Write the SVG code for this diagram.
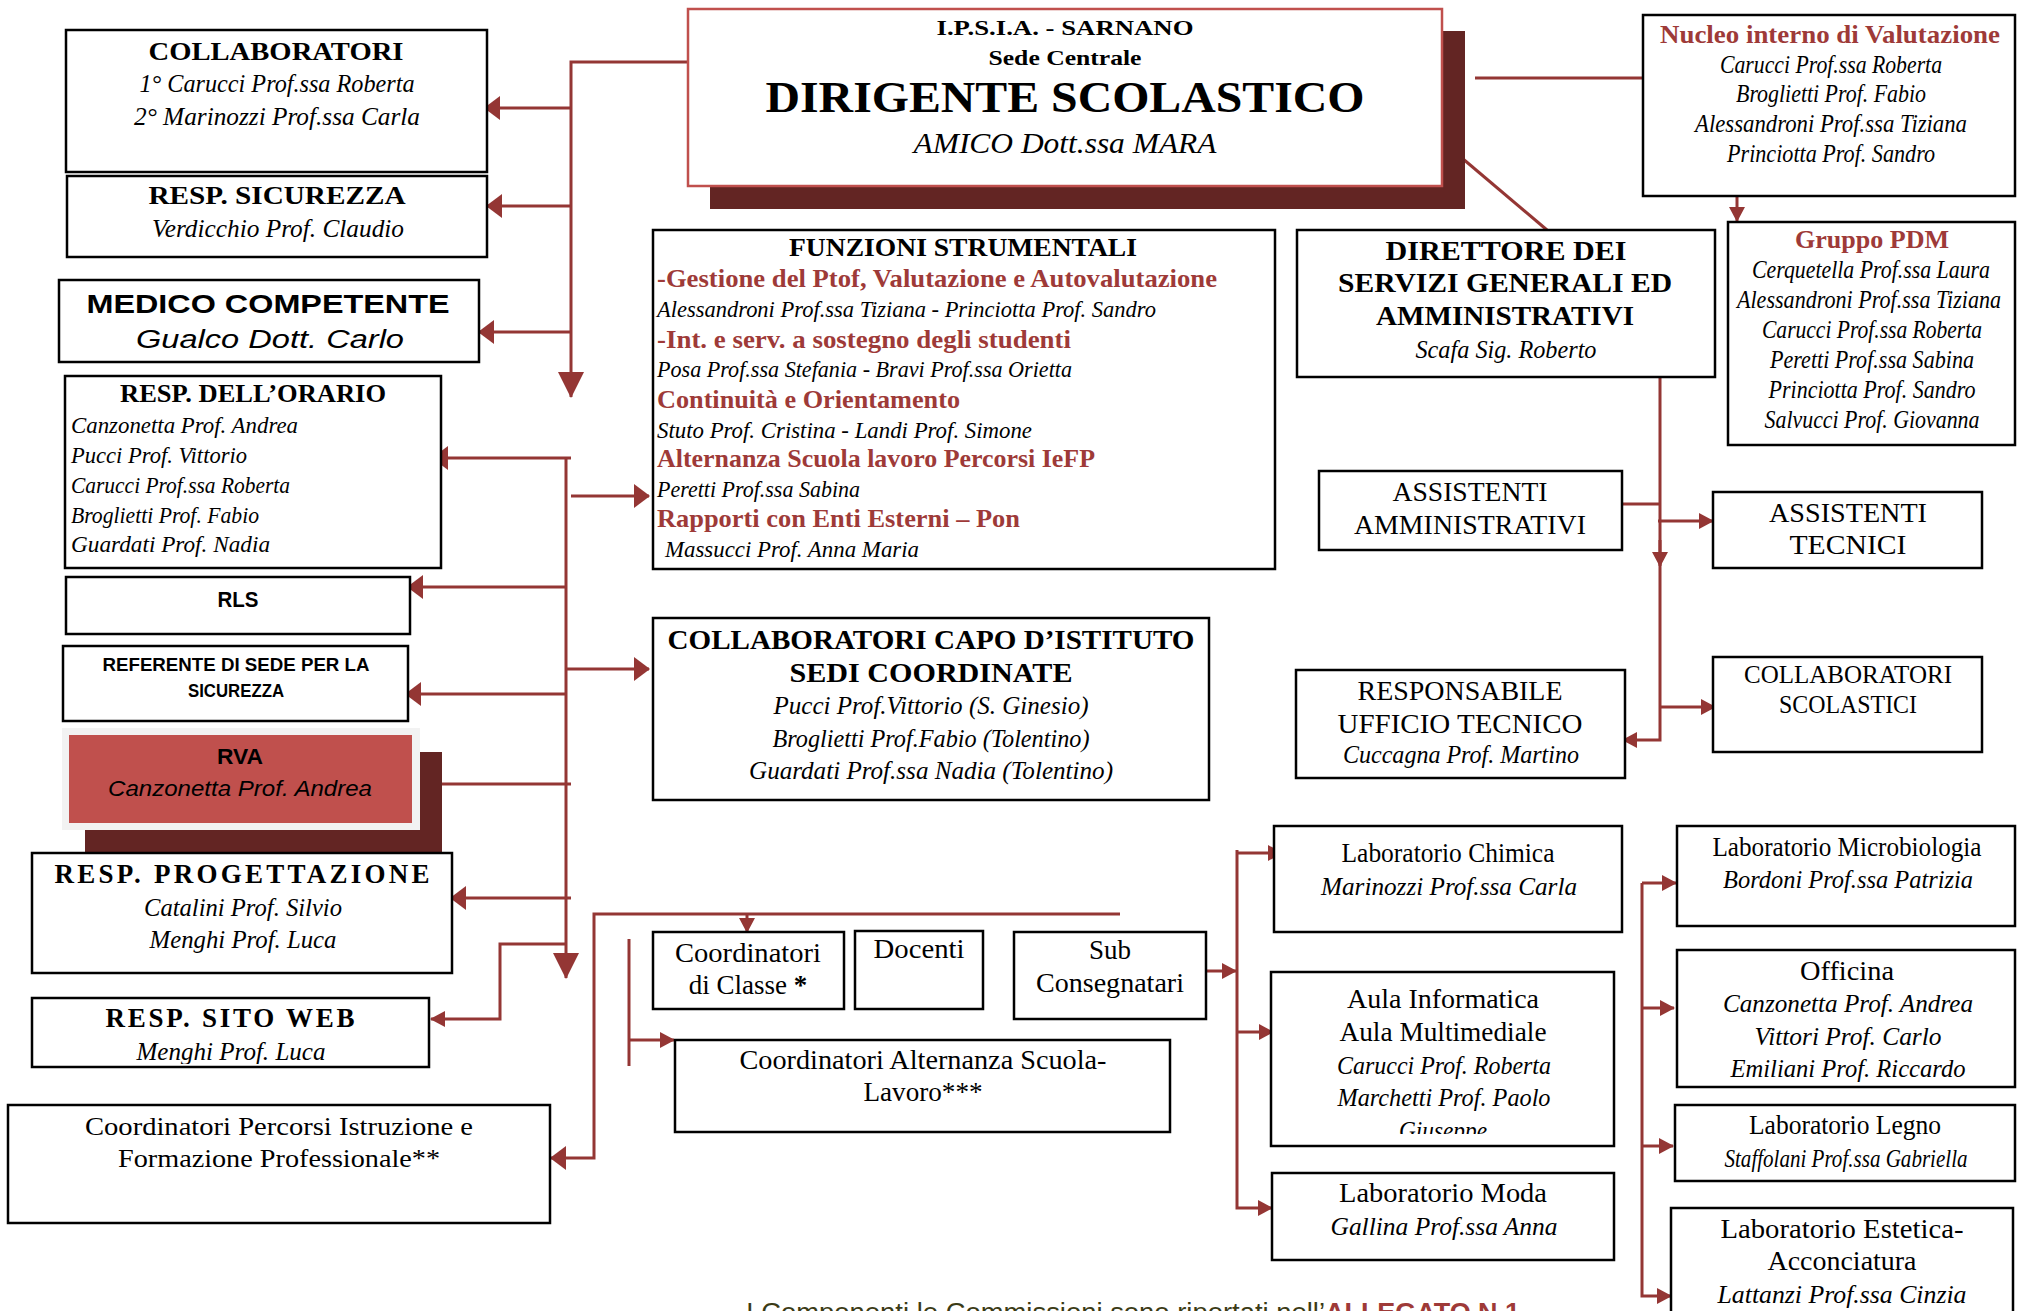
<svg xmlns="http://www.w3.org/2000/svg" width="2017" height="1311" viewBox="0 0 2017 1311" font-size="24">
<style>
.box{fill:#fff;stroke:#000;stroke-width:2.5}
text{font-family:"Liberation Serif","Times New Roman",serif;fill:#000}
.m{text-anchor:middle}
.b{font-weight:bold}
.i{font-style:italic}
.r{fill:#9e3a38}
.s{font-family:"Liberation Sans",Arial,sans-serif}
.n{fill:#3b3b16}
.c{fill:none;stroke:#943634;stroke-width:3}
</style>
<defs>
<marker id="big" markerUnits="userSpaceOnUse" markerWidth="16" markerHeight="24" viewBox="0 0 16 24" refX="15" refY="12" orient="auto"><path d="M0,0 L16,12 L0,24 z" fill="#943634"/></marker>
<marker id="sm" markerUnits="userSpaceOnUse" markerWidth="15" markerHeight="16" viewBox="0 0 15 16" refX="14" refY="8" orient="auto"><path d="M0,0 L15,8 L0,16 z" fill="#943634"/></marker>
<marker id="huge" markerUnits="userSpaceOnUse" markerWidth="26" markerHeight="26" viewBox="0 0 26 26" refX="25" refY="13" orient="auto"><path d="M0,0 L26,13 L0,26 z" fill="#943634"/></marker>
<clipPath id="clipWeb"><rect x="32" y="998" width="397" height="66"/></clipPath>
<clipPath id="clipAula"><rect x="1271" y="972" width="343" height="162"/></clipPath>
</defs>

<g id="connectors">
<path class="c" d="M688,62 H571 V397" marker-end="url(#huge)"/>
<path class="c" d="M571,108 H485" marker-end="url(#big)"/>
<path class="c" d="M571,206 H487" marker-end="url(#big)"/>
<path class="c" d="M571,332 H479" marker-end="url(#big)"/>
<path class="c" d="M566,458 V978" marker-end="url(#huge)"/>
<path class="c" d="M571,458 H433" marker-end="url(#big)"/>
<path class="c" d="M571,496 H649" marker-end="url(#big)"/>
<path class="c" d="M566,587 H408" marker-end="url(#big)"/>
<path class="c" d="M566,669 H649" marker-end="url(#big)"/>
<path class="c" d="M566,694 H406" marker-end="url(#big)"/>
<path class="c" d="M571,784 H405" marker-end="url(#big)"/>
<path class="c" d="M571,898 H451" marker-end="url(#big)"/>
<path class="c" d="M566,944 H500 V1019 H431" marker-end="url(#sm)"/>
<path class="c" d="M1120,914 H594 V1158 H551" marker-end="url(#big)"/>
<path class="c" d="M747,914 V932" marker-end="url(#sm)"/>
<path class="c" d="M629,939 V1066"/>
<path class="c" d="M629,1040 H674" marker-end="url(#sm)"/>
<path class="c" d="M1206,971 H1236" marker-end="url(#sm)"/>
<path class="c" d="M1237,850 V1208 H1272" marker-end="url(#sm)"/>
<path class="c" d="M1237,853 H1282" marker-end="url(#sm)"/>
<path class="c" d="M1237,1032 H1273" marker-end="url(#sm)"/>
<path class="c" d="M1642,883 V1296 H1671" marker-end="url(#sm)"/>
<path class="c" d="M1642,883 H1676" marker-end="url(#sm)"/>
<path class="c" d="M1642,1008 H1674" marker-end="url(#sm)"/>
<path class="c" d="M1642,1146 H1673" marker-end="url(#sm)"/>
<path class="c" d="M1456,153 L1547,230"/>
<path class="c" d="M1660,377 V740 H1623" marker-end="url(#sm)"/>
<path class="c" d="M1660,504 H1601" marker-end="url(#sm)"/>
<path class="c" d="M1658,521 H1713" marker-end="url(#sm)"/>
<path class="c" d="M1660,540 V566" marker-end="url(#sm)"/>
<path class="c" d="M1660,707 H1715" marker-end="url(#sm)"/>
<path class="c" d="M1475,78 H1643"/>
<path class="c" d="M1737,196 V221" marker-end="url(#sm)"/>
</g>

<g id="dirigente">
<rect x="710" y="31" width="755" height="178" fill="#632523"/>
<rect x="688" y="9" width="754" height="177" fill="#fff" stroke="#c0504d" stroke-width="2.5"/>
<text class="m b" x="1065" y="35" font-size="22" textLength="257" lengthAdjust="spacingAndGlyphs">I.P.S.I.A. - SARNANO</text>
<text class="m b" x="1065" y="65" font-size="22" textLength="153" lengthAdjust="spacingAndGlyphs">Sede Centrale</text>
<text class="m b" x="1065" y="112" font-size="45" textLength="599" lengthAdjust="spacingAndGlyphs">DIRIGENTE SCOLASTICO</text>
<text class="m i" x="1065" y="153" font-size="30" textLength="303" lengthAdjust="spacingAndGlyphs">AMICO Dott.ssa MARA</text>
</g>

<g id="collaboratori">
<rect class="box" x="66" y="30" width="421" height="142"/>
<text class="m b" x="276" y="60" font-size="26" textLength="255" lengthAdjust="spacingAndGlyphs">COLLABORATORI</text>
<text class="m i" x="277" y="92" font-size="26" textLength="275" lengthAdjust="spacingAndGlyphs">1° Carucci Prof.ssa Roberta</text>
<text class="m i" x="277" y="125" font-size="26" textLength="286" lengthAdjust="spacingAndGlyphs">2° Marinozzi Prof.ssa Carla</text>
</g>

<g id="resp-sicurezza">
<rect class="box" x="67" y="176" width="420" height="81"/>
<text class="m b" x="277" y="204" font-size="26" textLength="257" lengthAdjust="spacingAndGlyphs">RESP. SICUREZZA</text>
<text class="m i" x="278" y="237" font-size="26" textLength="252" lengthAdjust="spacingAndGlyphs">Verdicchio  Prof. Claudio</text>
</g>

<g id="medico">
<rect class="box" x="59" y="280" width="420" height="82"/>
<text class="m b s" x="268" y="313" font-size="26" textLength="363" lengthAdjust="spacingAndGlyphs">MEDICO COMPETENTE</text>
<text class="m i s" x="270" y="348" font-size="26" textLength="268" lengthAdjust="spacingAndGlyphs">Gualco Dott. Carlo</text>
</g>

<g id="orario">
<rect class="box" x="65" y="376" width="376" height="192"/>
<text class="m b" x="253" y="402" font-size="25" textLength="266" lengthAdjust="spacingAndGlyphs">RESP. DELL’ORARIO</text>
<text class="i" x="71" y="433" font-size="24" textLength="227" lengthAdjust="spacingAndGlyphs">Canzonetta Prof. Andrea</text>
<text class="i" x="71" y="463" font-size="24" textLength="176" lengthAdjust="spacingAndGlyphs">Pucci Prof. Vittorio</text>
<text class="i" x="71" y="493" font-size="24" textLength="219" lengthAdjust="spacingAndGlyphs">Carucci Prof.ssa Roberta</text>
<text class="i" x="71" y="523" font-size="24" textLength="188" lengthAdjust="spacingAndGlyphs">Broglietti Prof. Fabio</text>
<text class="i" x="71" y="552" font-size="24" textLength="199" lengthAdjust="spacingAndGlyphs">Guardati Prof. Nadia</text>
</g>

<g id="rls">
<rect class="box" x="66" y="577" width="344" height="57"/>
<text class="m b s" x="238" y="607" font-size="22" textLength="41" lengthAdjust="spacingAndGlyphs">RLS</text>
</g>

<g id="referente">
<rect class="box" x="63" y="646" width="345" height="75"/>
<text class="m b s" x="236" y="671" font-size="18" textLength="267" lengthAdjust="spacingAndGlyphs">REFERENTE DI SEDE PER LA</text>
<text class="m b s" x="236" y="697" font-size="18" textLength="96" lengthAdjust="spacingAndGlyphs">SICUREZZA</text>
</g>

<g id="rva">
<rect x="85" y="752" width="357" height="100" fill="#632523"/>
<rect x="62" y="728" width="358" height="102" fill="#f2f2f2"/>
<rect x="69" y="735" width="343" height="88" fill="#c0504d"/>
<text class="m b s" x="240" y="764" font-size="22" textLength="46" lengthAdjust="spacingAndGlyphs">RVA</text>
<text class="m i s" x="240" y="796" font-size="22" textLength="264" lengthAdjust="spacingAndGlyphs">Canzonetta Prof. Andrea</text>
</g>

<g id="progettazione">
<rect class="box" x="32" y="853" width="420" height="120"/>
<text class="m b" x="242" y="883" font-size="27" textLength="375" lengthAdjust="spacing">RESP. PROGETTAZIONE</text>
<text class="m i" x="243" y="916" font-size="26" textLength="198" lengthAdjust="spacingAndGlyphs">Catalini Prof. Silvio</text>
<text class="m i" x="243" y="948" font-size="26" textLength="187" lengthAdjust="spacingAndGlyphs">Menghi Prof. Luca</text>
</g>

<g id="sito-web">
<rect class="box" x="32" y="998" width="397" height="69"/>
<text class="m b" x="230" y="1027" font-size="27" textLength="249" lengthAdjust="spacing">RESP. SITO WEB</text>
<text class="m i" x="231" y="1060" font-size="26" textLength="189" lengthAdjust="spacingAndGlyphs" clip-path="url(#clipWeb)">Menghi Prof. Luca</text>
</g>

<g id="percorsi">
<rect class="box" x="8" y="1105" width="542" height="118"/>
<text class="m" x="279" y="1135" font-size="26" textLength="388" lengthAdjust="spacingAndGlyphs">Coordinatori Percorsi Istruzione e</text>
<text class="m" x="279" y="1167" font-size="26" textLength="322" lengthAdjust="spacingAndGlyphs">Formazione Professionale**</text>
</g>

<g id="funzioni">
<rect class="box" x="653" y="230" width="622" height="339"/>
<text class="m b" x="963" y="256" font-size="25" textLength="348" lengthAdjust="spacingAndGlyphs">FUNZIONI STRUMENTALI</text>
<text class="b r" x="657" y="287" font-size="25" textLength="560" lengthAdjust="spacingAndGlyphs">-Gestione del Ptof, Valutazione e Autovalutazione</text>
<text class="i" x="657" y="317" font-size="24" textLength="499" lengthAdjust="spacingAndGlyphs">Alessandroni Prof.ssa Tiziana - Princiotta Prof. Sandro</text>
<text class="b r" x="657" y="348" font-size="25" textLength="414" lengthAdjust="spacingAndGlyphs">-Int. e serv. a sostegno degli studenti</text>
<text class="i" x="657" y="377" font-size="24" textLength="415" lengthAdjust="spacingAndGlyphs">Posa Prof.ssa Stefania - Bravi Prof.ssa Orietta</text>
<text class="b r" x="657" y="408" font-size="25" textLength="303" lengthAdjust="spacingAndGlyphs">Continuità e Orientamento</text>
<text class="i" x="657" y="438" font-size="24" textLength="375" lengthAdjust="spacingAndGlyphs">Stuto Prof. Cristina - Landi Prof. Simone</text>
<text class="b r" x="657" y="467" font-size="25" textLength="438" lengthAdjust="spacingAndGlyphs">Alternanza Scuola lavoro Percorsi IeFP</text>
<text class="i" x="657" y="497" font-size="24" textLength="203" lengthAdjust="spacingAndGlyphs">Peretti Prof.ssa Sabina</text>
<text class="b r" x="657" y="527" font-size="25" textLength="363" lengthAdjust="spacingAndGlyphs">Rapporti con Enti Esterni – Pon</text>
<text class="i" x="665" y="557" font-size="24" textLength="254" lengthAdjust="spacingAndGlyphs">Massucci Prof. Anna Maria</text>
</g>

<g id="collab-capo">
<rect class="box" x="653" y="618" width="556" height="182"/>
<text class="m b" x="931" y="649" font-size="27" textLength="527" lengthAdjust="spacingAndGlyphs">COLLABORATORI CAPO D’ISTITUTO</text>
<text class="m b" x="931" y="682" font-size="27" textLength="283" lengthAdjust="spacingAndGlyphs">SEDI COORDINATE</text>
<text class="m i" x="931" y="714" font-size="26" textLength="315" lengthAdjust="spacingAndGlyphs">Pucci Prof.Vittorio (S. Ginesio)</text>
<text class="m i" x="931" y="747" font-size="26" textLength="317" lengthAdjust="spacingAndGlyphs">Broglietti Prof.Fabio (Tolentino)</text>
<text class="m i" x="931" y="779" font-size="26" textLength="364" lengthAdjust="spacingAndGlyphs">Guardati Prof.ssa Nadia (Tolentino)</text>
</g>

<g id="coord-classe">
<rect class="box" x="653" y="932" width="191" height="77"/>
<text class="m" x="748" y="962" font-size="27" textLength="146" lengthAdjust="spacingAndGlyphs">Coordinatori</text>
<text class="m" x="748" y="994" font-size="27">di Classe <tspan font-weight="bold">*</tspan></text>
</g>

<g id="docenti">
<rect class="box" x="855" y="931" width="128" height="78"/>
<text class="m" x="919" y="958" font-size="27" textLength="91" lengthAdjust="spacingAndGlyphs">Docenti</text>
</g>

<g id="sub-consegnatari">
<rect class="box" x="1014" y="932" width="192" height="87"/>
<text class="m" x="1110" y="959" font-size="27">Sub</text>
<text class="m" x="1110" y="992" font-size="27" textLength="148" lengthAdjust="spacingAndGlyphs">Consegnatari</text>
</g>

<g id="coord-alternanza">
<rect class="box" x="675" y="1040" width="495" height="92"/>
<text class="m" x="923" y="1069" font-size="27" textLength="367" lengthAdjust="spacingAndGlyphs">Coordinatori Alternanza Scuola-</text>
<text class="m" x="923" y="1101" font-size="27" textLength="119" lengthAdjust="spacingAndGlyphs">Lavoro***</text>
</g>

<g id="direttore">
<rect class="box" x="1297" y="230" width="418" height="147"/>
<text class="m b" x="1506" y="260" font-size="27" textLength="241" lengthAdjust="spacingAndGlyphs">DIRETTORE DEI</text>
<text class="m b" x="1505" y="292" font-size="27" textLength="334" lengthAdjust="spacingAndGlyphs">SERVIZI GENERALI ED</text>
<text class="m b" x="1505" y="325" font-size="27" textLength="258" lengthAdjust="spacingAndGlyphs">AMMINISTRATIVI</text>
<text class="m i" x="1506" y="358" font-size="26" textLength="181" lengthAdjust="spacingAndGlyphs">Scafa Sig. Roberto</text>
</g>

<g id="nucleo">
<rect class="box" x="1643" y="15" width="372" height="181"/>
<text class="m b r" x="1830" y="43" font-size="25" textLength="340" lengthAdjust="spacingAndGlyphs">Nucleo interno di Valutazione</text>
<text class="m i" x="1831" y="73" font-size="25" textLength="222" lengthAdjust="spacingAndGlyphs">Carucci Prof.ssa Roberta</text>
<text class="m i" x="1831" y="102" font-size="25" textLength="190" lengthAdjust="spacingAndGlyphs">Broglietti Prof. Fabio</text>
<text class="m i" x="1831" y="132" font-size="25" textLength="272" lengthAdjust="spacingAndGlyphs">Alessandroni Prof.ssa Tiziana</text>
<text class="m i" x="1831" y="162" font-size="25" textLength="208" lengthAdjust="spacingAndGlyphs">Princiotta Prof. Sandro</text>
</g>

<g id="gruppo-pdm">
<rect class="box" x="1728" y="222" width="287" height="223"/>
<text class="m b r" x="1872" y="248" font-size="25" textLength="154" lengthAdjust="spacingAndGlyphs">Gruppo PDM</text>
<text class="m i" x="1871" y="278" font-size="25" textLength="238" lengthAdjust="spacingAndGlyphs">Cerquetella Prof.ssa Laura</text>
<text class="m i" x="1869" y="308" font-size="25" textLength="264" lengthAdjust="spacingAndGlyphs">Alessandroni Prof.ssa Tiziana</text>
<text class="m i" x="1872" y="338" font-size="25" textLength="220" lengthAdjust="spacingAndGlyphs">Carucci Prof.ssa Roberta</text>
<text class="m i" x="1872" y="368" font-size="25" textLength="204" lengthAdjust="spacingAndGlyphs">Peretti Prof.ssa Sabina</text>
<text class="m i" x="1872" y="398" font-size="25" textLength="207" lengthAdjust="spacingAndGlyphs">Princiotta Prof. Sandro</text>
<text class="m i" x="1872" y="428" font-size="25" textLength="215" lengthAdjust="spacingAndGlyphs">Salvucci Prof. Giovanna</text>
</g>

<g id="assistenti-amm">
<rect class="box" x="1319" y="471" width="303" height="79"/>
<text class="m" x="1470" y="501" font-size="27" textLength="155" lengthAdjust="spacingAndGlyphs">ASSISTENTI</text>
<text class="m" x="1470" y="534" font-size="27" textLength="232" lengthAdjust="spacingAndGlyphs">AMMINISTRATIVI</text>
</g>

<g id="assistenti-tec">
<rect class="box" x="1713" y="492" width="269" height="76"/>
<text class="m" x="1848" y="522" font-size="27" textLength="158" lengthAdjust="spacingAndGlyphs">ASSISTENTI</text>
<text class="m" x="1848" y="554" font-size="27" textLength="117" lengthAdjust="spacingAndGlyphs">TECNICI</text>
</g>

<g id="ufficio-tecnico">
<rect class="box" x="1296" y="670" width="329" height="108"/>
<text class="m" x="1460" y="700" font-size="27" textLength="205" lengthAdjust="spacingAndGlyphs">RESPONSABILE</text>
<text class="m" x="1460" y="733" font-size="27" textLength="245" lengthAdjust="spacingAndGlyphs">UFFICIO TECNICO</text>
<text class="m i" x="1461" y="763" font-size="26" textLength="236" lengthAdjust="spacingAndGlyphs">Cuccagna Prof. Martino</text>
</g>

<g id="collab-scolastici">
<rect class="box" x="1713" y="657" width="269" height="95"/>
<text class="m" x="1848" y="683" font-size="26" textLength="208" lengthAdjust="spacingAndGlyphs">COLLABORATORI</text>
<text class="m" x="1848" y="713" font-size="26" textLength="138" lengthAdjust="spacingAndGlyphs">SCOLASTICI</text>
</g>

<g id="lab-chimica">
<rect class="box" x="1274" y="826" width="348" height="106"/>
<text class="m" x="1448" y="862" font-size="27" textLength="213" lengthAdjust="spacingAndGlyphs">Laboratorio Chimica</text>
<text class="m i" x="1449" y="895" font-size="26" textLength="256" lengthAdjust="spacingAndGlyphs">Marinozzi Prof.ssa Carla</text>
</g>

<g id="aula-informatica">
<rect class="box" x="1271" y="972" width="343" height="174"/>
<text class="m" x="1443" y="1008" font-size="27" textLength="192" lengthAdjust="spacingAndGlyphs">Aula Informatica</text>
<text class="m" x="1443" y="1041" font-size="27" textLength="207" lengthAdjust="spacingAndGlyphs">Aula Multimediale</text>
<text class="m i" x="1444" y="1074" font-size="26" textLength="214" lengthAdjust="spacingAndGlyphs">Carucci Prof. Roberta</text>
<text class="m i" x="1444" y="1106" font-size="26" textLength="213" lengthAdjust="spacingAndGlyphs">Marchetti Prof. Paolo</text>
<text class="m i" x="1443" y="1139" font-size="26" textLength="88" lengthAdjust="spacingAndGlyphs" clip-path="url(#clipAula)">Giuseppe</text>
</g>

<g id="lab-moda">
<rect class="box" x="1272" y="1173" width="342" height="87"/>
<text class="m" x="1443" y="1202" font-size="27" textLength="208" lengthAdjust="spacingAndGlyphs">Laboratorio Moda</text>
<text class="m i" x="1444" y="1235" font-size="26" textLength="227" lengthAdjust="spacingAndGlyphs">Gallina Prof.ssa Anna</text>
</g>

<g id="lab-microbiologia">
<rect class="box" x="1677" y="826" width="338" height="100"/>
<text class="m" x="1847" y="856" font-size="27" textLength="269" lengthAdjust="spacingAndGlyphs">Laboratorio Microbiologia</text>
<text class="m i" x="1848" y="888" font-size="26" textLength="250" lengthAdjust="spacingAndGlyphs">Bordoni Prof.ssa Patrizia</text>
</g>

<g id="officina">
<rect class="box" x="1677" y="950" width="338" height="137"/>
<text class="m" x="1847" y="980" font-size="27" textLength="94" lengthAdjust="spacingAndGlyphs">Officina</text>
<text class="m i" x="1848" y="1012" font-size="26" textLength="250" lengthAdjust="spacingAndGlyphs">Canzonetta Prof. Andrea</text>
<text class="m i" x="1848" y="1045" font-size="26" textLength="187" lengthAdjust="spacingAndGlyphs">Vittori Prof. Carlo</text>
<text class="m i" x="1848" y="1077" font-size="26" textLength="235" lengthAdjust="spacingAndGlyphs">Emiliani Prof. Riccardo</text>
</g>

<g id="lab-legno">
<rect class="box" x="1675" y="1105" width="340" height="76"/>
<text class="m" x="1845" y="1134" font-size="27" textLength="192" lengthAdjust="spacingAndGlyphs">Laboratorio Legno</text>
<text class="m i" x="1846" y="1167" font-size="26" textLength="243" lengthAdjust="spacingAndGlyphs">Staffolani Prof.ssa Gabriella</text>
</g>

<g id="lab-estetica">
<rect class="box" x="1671" y="1208" width="342" height="112"/>
<text class="m" x="1842" y="1238" font-size="27" textLength="243" lengthAdjust="spacingAndGlyphs">Laboratorio Estetica-</text>
<text class="m" x="1842" y="1270" font-size="27" textLength="149" lengthAdjust="spacingAndGlyphs">Acconciatura</text>
<text class="m i" x="1842" y="1303" font-size="26" textLength="249" lengthAdjust="spacingAndGlyphs">Lattanzi Prof.ssa Cinzia</text>
</g>

<g id="nota">
<text class="s n" x="746" y="1321" font-size="26" textLength="579" lengthAdjust="spacingAndGlyphs">I Componenti le Commissioni sono riportati nell’</text>
<text class="s b r" x="1325" y="1321" font-size="26" textLength="195" lengthAdjust="spacingAndGlyphs">ALLEGATO N.1</text>
</g>
</svg>
